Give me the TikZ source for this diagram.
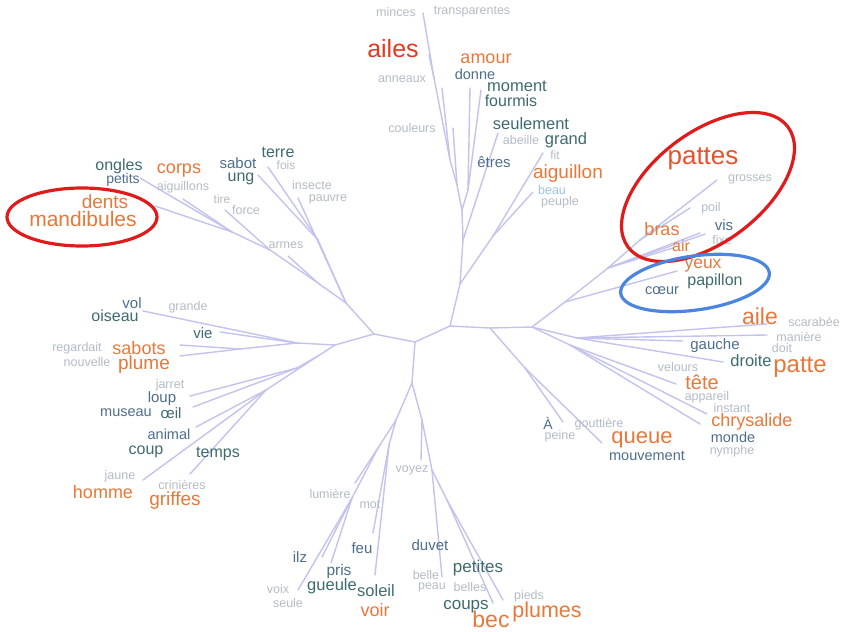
\documentclass[tikz,border=0pt]{standalone}
\usepackage{fontspec}
\setmainfont{Liberation Sans}
\definecolor{cred}{HTML}{E5391F}
\definecolor{cred2}{HTML}{E8522A}
\definecolor{cor}{HTML}{E8783A}
\definecolor{cteal}{HTML}{3F6B6E}
\definecolor{cslate}{HTML}{4E6E8E}
\definecolor{cgray}{HTML}{B3BCC6}
\definecolor{cblue}{HTML}{9CC2E2}
\definecolor{cline}{HTML}{C3C3EE}
\definecolor{ering}{HTML}{E01B1B}
\definecolor{bring}{HTML}{4A86E0}
\newcommand\wordnode[6]{\node[wrd, font=\fontsize{#4}{#4}\selectfont, text=#5] (#1) at (#2,#3) {#6};}
\tikzset{
  wrd/.style={inner sep=0pt, anchor=center},
  br/.style={draw=cline, line width=1.4pt, line cap=round},
  ring/.style={line width=3.2pt}
}
\begin{document}
\begin{tikzpicture}[x=1pt,y=-1pt]
\fill[white] (0,0) rectangle (847,632);
\useasboundingbox (0,0) rectangle (847,632);
% ---- tree coordinates ----
\coordinate (A) at (450,326);
\coordinate (B) at (415,342);
\coordinate (C) at (374,334);
% top
\coordinate (U1) at (460,284);
\coordinate (U2) at (463,240);
\coordinate (U3) at (493,236);
\coordinate (U5) at (462,210);
\coordinate (U6) at (457,185);
\coordinate (U7) at (450,160);
\coordinate (U8) at (434,78);
\coordinate (U9) at (468,190);
\coordinate (laig) at (543,153);
\coordinate (lbeau) at (533,192);
\coordinate (lseul) at (498,133);
\coordinate (lcoul) at (453,128);
\coordinate (lanne) at (442,88);
\coordinate (lmince) at (423,13);
\coordinate (lailes) at (429,55);
\coordinate (ldonne) at (470,88);
\coordinate (lmoment) at (481,90);
% upper left
\coordinate (L1) at (346,303);
\coordinate (T1) at (318,240);
\coordinate (lterre) at (268,167);
\coordinate (lsabot) at (258,175);
\coordinate (linsect) at (298,198);
\coordinate (L3) at (318,283);
\coordinate (larmes) at (288,256);
\coordinate (L4) at (270,250);
\coordinate (lforce) at (225,210);
\coordinate (L5) at (232,232);
\coordinate (laigs) at (183,199);
\coordinate (lpetits) at (140,178);
\coordinate (ldents) at (155,206);
% left
\coordinate (W1) at (335,345);
\coordinate (W2) at (297,343);
\coordinate (W3) at (240,349);
\coordinate (loiseau) at (143,311);
\coordinate (lvie) at (220,332);
\coordinate (lsabots) at (180,345);
\coordinate (lplume) at (180,356);
\coordinate (W4) at (318,356);
\coordinate (W5) at (297,368);
\coordinate (lloup) at (190,396);
\coordinate (loeil) at (193,407);
\coordinate (W6) at (266,390);
\coordinate (lanimal) at (196,427);
\coordinate (lcoup) at (143,480);
\coordinate (ltemps) at (190,474);
% bottom
\coordinate (D1) at (412,383);
\coordinate (D2) at (396,420);
\coordinate (D7) at (378,448);
\coordinate (D8) at (352,498);
\coordinate (D9) at (389,445);
\coordinate (llum) at (355,483);
\coordinate (lvoix) at (298,590);
\coordinate (lilz) at (322,557);
\coordinate (lpris) at (331,563);
\coordinate (lmot) at (373,533);
\coordinate (lsoleil) at (375,575);
\coordinate (D3) at (422,420);
\coordinate (lvoyez) at (421,460);
\coordinate (D4) at (432,470);
\coordinate (D5) at (447,500);
\coordinate (lduvet) at (442,577);
\coordinate (lbec) at (493,603);
\coordinate (lpieds) at (503,600);
% right
\coordinate (R2) at (490,328);
\coordinate (R1) at (532,327);
\coordinate (R7) at (525,368);
\coordinate (lA) at (563,422);
\coordinate (lqueue) at (602,443);
\coordinate (R3) at (577,338);
\coordinate (laile) at (767,324);
\coordinate (lmaniere) at (767,335);
\coordinate (lgauche) at (683,341);
\coordinate (ldroite) at (723,362);
\coordinate (R4) at (570,345);
\coordinate (ltete) at (676,384);
\coordinate (lchrys) at (707,414);
\coordinate (lmonde) at (700,424);
\coordinate (R5) at (565,302);
\coordinate (lcoeur) at (677,271);
\coordinate (R6) at (608,268);
\coordinate (lair) at (700,233);
\coordinate (lbras) at (673,248);
\coordinate (R8) at (640,240);
\coordinate (lpoil) at (690,208);
\coordinate (lgros) at (717,180);
\coordinate (lvis) at (705,234);
% ---- edges ----
\foreach \a/\b in {A/B,B/C,
  A/U1,U1/U2,U1/U3,U3/laig,U3/lbeau,U2/lseul,U2/U5,U5/U6,U6/lcoul,U6/U7,U7/lanne,U7/U8,U8/lmince,U8/lailes,U5/U9,U9/ldonne,U9/lmoment,
  C/L1,L1/T1,T1/lterre,T1/lsabot,L1/linsect,L1/L3,L3/larmes,L3/L4,L4/lforce,L4/L5,L5/laigs,L5/lpetits,L5/ldents,
  C/W1,W1/W2,W2/loiseau,W2/lvie,W2/W3,W3/lsabots,W3/lplume,W1/W4,W4/W5,W5/lloup,W5/loeil,W4/W6,W6/lanimal,W6/lcoup,W6/ltemps,
  B/D1,D1/D2,D2/D7,D7/llum,D7/D8,D8/lvoix,D8/lilz,D8/lpris,D2/D9,D9/lmot,D9/lsoleil,D1/D3,D3/lvoyez,D3/D4,D4/lduvet,D4/D5,D5/lbec,D5/lpieds,
  A/R2,R2/R1,R2/R7,R7/lA,R7/lqueue,R1/R3,R3/laile,R3/lmaniere,R3/lgauche,R3/ldroite,R1/R4,R4/ltete,R4/lchrys,R4/lmonde,
  R1/R5,R5/lcoeur,R5/R6,R6/lair,R6/lbras,R6/R8,R8/lpoil,R8/lgros,R6/lvis}
  \draw[br] (\a) -- (\b);
% ---- words: top ----
\wordnode{minces}{396}{12}{12.5}{cgray}{minces}
\wordnode{transp}{472}{12}{12.5}{cgray}{transparentes}
\wordnode{ailes}{393}{49}{25}{cred}{ailes}
\wordnode{amour}{486}{59}{18}{cor}{amour}
\wordnode{donne}{475}{74}{14.5}{cslate}{donne}
\wordnode{anneaux}{402}{79}{12.5}{cgray}{anneaux}
\wordnode{moment}{517}{86}{16.5}{cteal}{moment}
\wordnode{fourmis}{511}{101}{16}{cteal}{fourmis}
\wordnode{couleurs}{412}{128}{12.5}{cgray}{couleurs}
\wordnode{seulement}{531}{124}{16.5}{cteal}{seulement}
\wordnode{abeille}{521}{140}{12.5}{cgray}{abeille}
\wordnode{grand}{566}{140}{16.5}{cteal}{grand}
\wordnode{fit}{555}{155}{12}{cgray}{fit}
\wordnode{etres}{494}{162}{15}{cslate}{êtres}
\wordnode{aiguillon}{568}{174}{19}{cor}{aiguillon}
\wordnode{beau}{552}{190}{12.5}{cblue}{beau}
\wordnode{peuple}{560}{202}{12.5}{cgray}{peuple}
% ---- upper left ----
\wordnode{ongles}{119}{166}{16}{cteal}{ongles}
\wordnode{petits}{123}{180}{14}{cslate}{petits}
\wordnode{corps}{179}{171}{18}{cor}{corps}
\wordnode{aiguillons}{183}{187}{12.5}{cgray}{aiguillons}
\wordnode{sabot}{238}{163}{15}{cslate}{sabot}
\wordnode{ung}{241}{179}{16}{cteal}{ung}
\wordnode{terre}{278}{152}{16}{cteal}{terre}
\wordnode{fois}{286}{165}{12}{cgray}{fois}
\wordnode{insecte}{312}{185}{12.5}{cgray}{insecte}
\wordnode{pauvre}{328}{199}{12.5}{cgray}{pauvre}
\wordnode{tire}{222}{199}{12}{cgray}{tire}
\wordnode{force}{246}{210}{12.5}{cgray}{force}
\wordnode{armes}{286}{245}{12.5}{cgray}{armes}
\wordnode{dents}{105}{202}{19}{cor}{dents}
\wordnode{mandibules}{83}{219}{21}{cor}{mandibules}
% ---- right upper ----
\wordnode{pattes}{703}{159}{26}{cred2}{pattes}
\wordnode{grosses}{750}{179}{12.5}{cgray}{grosses}
\wordnode{poil}{711}{208}{12.5}{cgray}{poil}
\wordnode{vis}{724}{225}{15}{cslate}{vis}
\wordnode{fixe}{722}{240}{12.5}{cgray}{fixe}
\wordnode{bras}{662}{229}{18}{cor}{bras}
\wordnode{air}{681}{246}{16}{cor}{air}
\wordnode{yeux}{703}{266}{17.5}{cor}{yeux}
\wordnode{papillon}{715}{281}{16}{cteal}{papillon}
\wordnode{coeur}{662}{291}{14.5}{cslate}{cœur}
% ---- right middle ----
\wordnode{aile}{760}{316}{23}{cor}{aile}
\wordnode{scarabee}{814}{322}{12.5}{cgray}{scarabée}
\wordnode{maniere}{799}{337}{12.5}{cgray}{manière}
\wordnode{doit}{782}{348}{12.5}{cgray}{doit}
\wordnode{gauche}{715}{346}{15}{cslate}{gauche}
\wordnode{droite}{751}{361}{16.5}{cteal}{droite}
\wordnode{patte}{800}{367}{24}{cor}{patte}
\wordnode{velours}{678}{367}{12.5}{cgray}{velours}
\wordnode{tete}{702}{382}{20}{cor}{tête}
\wordnode{appareil}{707}{397}{12.5}{cgray}{appareil}
\wordnode{instant}{732}{408}{12.5}{cgray}{instant}
\wordnode{chrysalide}{752}{422}{18}{cor}{chrysalide}
\wordnode{monde}{733}{437}{14.5}{cslate}{monde}
\wordnode{nymphe}{732}{451}{12.5}{cgray}{nymphe}
\wordnode{Aacc}{548}{423}{14}{cslate}{À}
\wordnode{peine}{560}{436}{12.5}{cgray}{peine}
\wordnode{gouttiere}{599}{424}{12.5}{cgray}{gouttière}
\wordnode{queue}{642}{440}{22}{cor}{queue}
\wordnode{mouvement}{647}{456}{14.5}{cslate}{mouvement}
% ---- left ----
\wordnode{vol}{132}{303}{15}{cslate}{vol}
\wordnode{oiseau}{115}{316}{16}{cteal}{oiseau}
\wordnode{grande}{188}{307}{12.5}{cgray}{grande}
\wordnode{vie}{203}{333}{15}{cteal}{vie}
\wordnode{regardait}{77}{348}{12.5}{cgray}{regardait}
\wordnode{sabots}{139}{348}{18}{cor}{sabots}
\wordnode{nouvelle}{87}{362}{12.5}{cgray}{nouvelle}
\wordnode{plume}{144}{365}{19}{cor}{plume}
\wordnode{jarret}{170}{385}{12.5}{cgray}{jarret}
\wordnode{loup}{162}{399}{15}{cslate}{loup}
\wordnode{museau}{126}{413}{14.5}{cslate}{museau}
\wordnode{oeil}{171}{413}{15}{cteal}{œil}
\wordnode{animal}{169}{434}{14.5}{cslate}{animal}
\wordnode{coup}{146}{452}{16}{cteal}{coup}
\wordnode{temps}{218}{454}{16}{cteal}{temps}
\wordnode{jaune}{120}{476}{12.5}{cgray}{jaune}
\wordnode{crinieres}{182}{485}{12.5}{cgray}{crinières}
\wordnode{homme}{103}{492}{18}{cor}{homme}
\wordnode{griffes}{175}{501}{19}{cor}{griffes}
% ---- bottom ----
\wordnode{voyez}{412}{470}{12.5}{cgray}{voyez}
\wordnode{lumiere}{330}{494}{12.5}{cgray}{lumière}
\wordnode{mot}{370}{505}{12.5}{cgray}{mot}
\wordnode{feu}{362}{548}{15}{cslate}{feu}
\wordnode{duvet}{430}{545}{15}{cslate}{duvet}
\wordnode{ilz}{300}{557}{15}{cslate}{ilz}
\wordnode{pris}{339}{571}{15.5}{cslate}{pris}
\wordnode{petites}{478}{568}{17}{cteal}{petites}
\wordnode{belle}{426}{575}{12.5}{cgray}{belle}
\wordnode{gueule}{332}{586}{16.5}{cteal}{gueule}
\wordnode{soleil}{376}{591}{16.5}{cteal}{soleil}
\wordnode{peau}{432}{587}{12.5}{cgray}{peau}
\wordnode{belles}{470}{587}{12.5}{cgray}{belles}
\wordnode{voix}{278}{589}{12.5}{cgray}{voix}
\wordnode{seule}{288}{603}{12.5}{cgray}{seule}
\wordnode{pieds}{529}{596}{12.5}{cgray}{pieds}
\wordnode{voir}{375}{610}{18}{cor}{voir}
\wordnode{coups}{466}{607}{17}{cteal}{coups}
\wordnode{bec}{491}{619}{23}{cor}{bec}
\wordnode{plumes}{547}{612}{21.5}{cor}{plumes}
% ---- highlight rings ----
\draw[ring, ering] (82,217) ellipse [x radius=75pt, y radius=29pt];
\draw[ring, ering] (708,187) ellipse [x radius=100pt, y radius=55pt, rotate=37];
\draw[ring, bring] (695,283) ellipse [x radius=75pt, y radius=27pt, rotate=8];
\end{tikzpicture}
\end{document}
